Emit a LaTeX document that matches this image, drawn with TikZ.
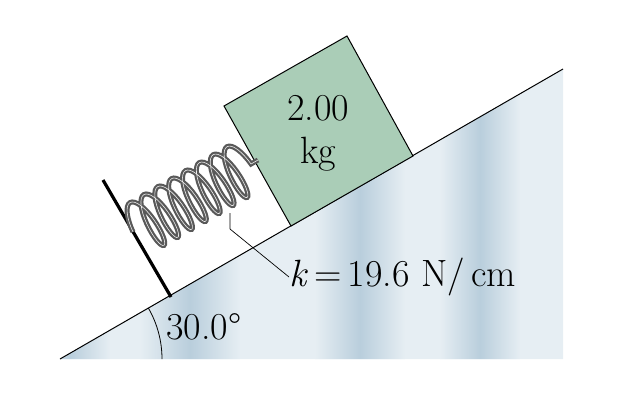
\documentclass[tikz,border=0pt]{standalone}
\usepackage{fontspec}
\usetikzlibrary{decorations.pathmorphing,calc}
\definecolor{incL}{RGB}{230,238,243}
\definecolor{incD}{RGB}{185,206,220}
\definecolor{blk}{RGB}{170,205,183}
\begin{document}
\begin{tikzpicture}[x=1pt,y=-1pt,
  lbl/.style={inner sep=0pt,font=\fontsize{38}{44}\selectfont}]
\useasboundingbox (0,0) rectangle (620,404);
\coordinate (BL) at (60,359);
\coordinate (BR) at (563,359);
\coordinate (TR) at (563,69);
\fill[incL] (BL) -- (TR) -- (BR) -- cycle;
\begin{scope}
\clip (BL) -- (TR) -- (BR) -- cycle;
\foreach \x/\w in {70/40,190/50,360/45,480/40}{
  \shade[left color=incL, right color=incL, middle color=incD] (\x-\w,0) rectangle (\x+\w,404);}
\end{scope}
\draw[line width=1pt] (BL) -- (TR);
% block
\coordinate (B1) at (224,106); \coordinate (B2) at (347,36);
\coordinate (B3) at (413,156); \coordinate (B4) at (291,226);
\draw[line width=1pt, fill=blk] (B1) -- (B2) -- (B3) -- (B4) -- cycle;
\node[lbl] (m1) at (318,108) {2.00};
\node[lbl] (m2) at (318,154) {kg};
% wall
\coordinate (W1) at (103,180); \coordinate (W2) at (171,297);
\draw[line width=3.2pt] (W1) -- (W2);
% spring
\coordinate (S1) at (133,232); \coordinate (S2) at (258,160);
\draw[gray!70!black, line width=2.2pt, double=gray!15, double distance=0.6pt, decorate,
  decoration={coil, amplitude=27pt, segment length=16pt, aspect=0.3}] (S1) -- (S2);
% leader
\coordinate (L1) at (230,213); \coordinate (L2) at (230,229);
\node[lbl, anchor=west] (k) at (289,277) {\textit{k}\,=\,19.6 N/\,cm};
\draw[line width=0.7pt] (L1) -- (L2) -- (k.west);
% angle
\draw[line width=0.8pt] (162,359) arc[start angle=0, end angle=-30, radius=102];
\node[lbl, anchor=west] (a) at (166,327) {30.0°};
\end{tikzpicture}
\end{document}
